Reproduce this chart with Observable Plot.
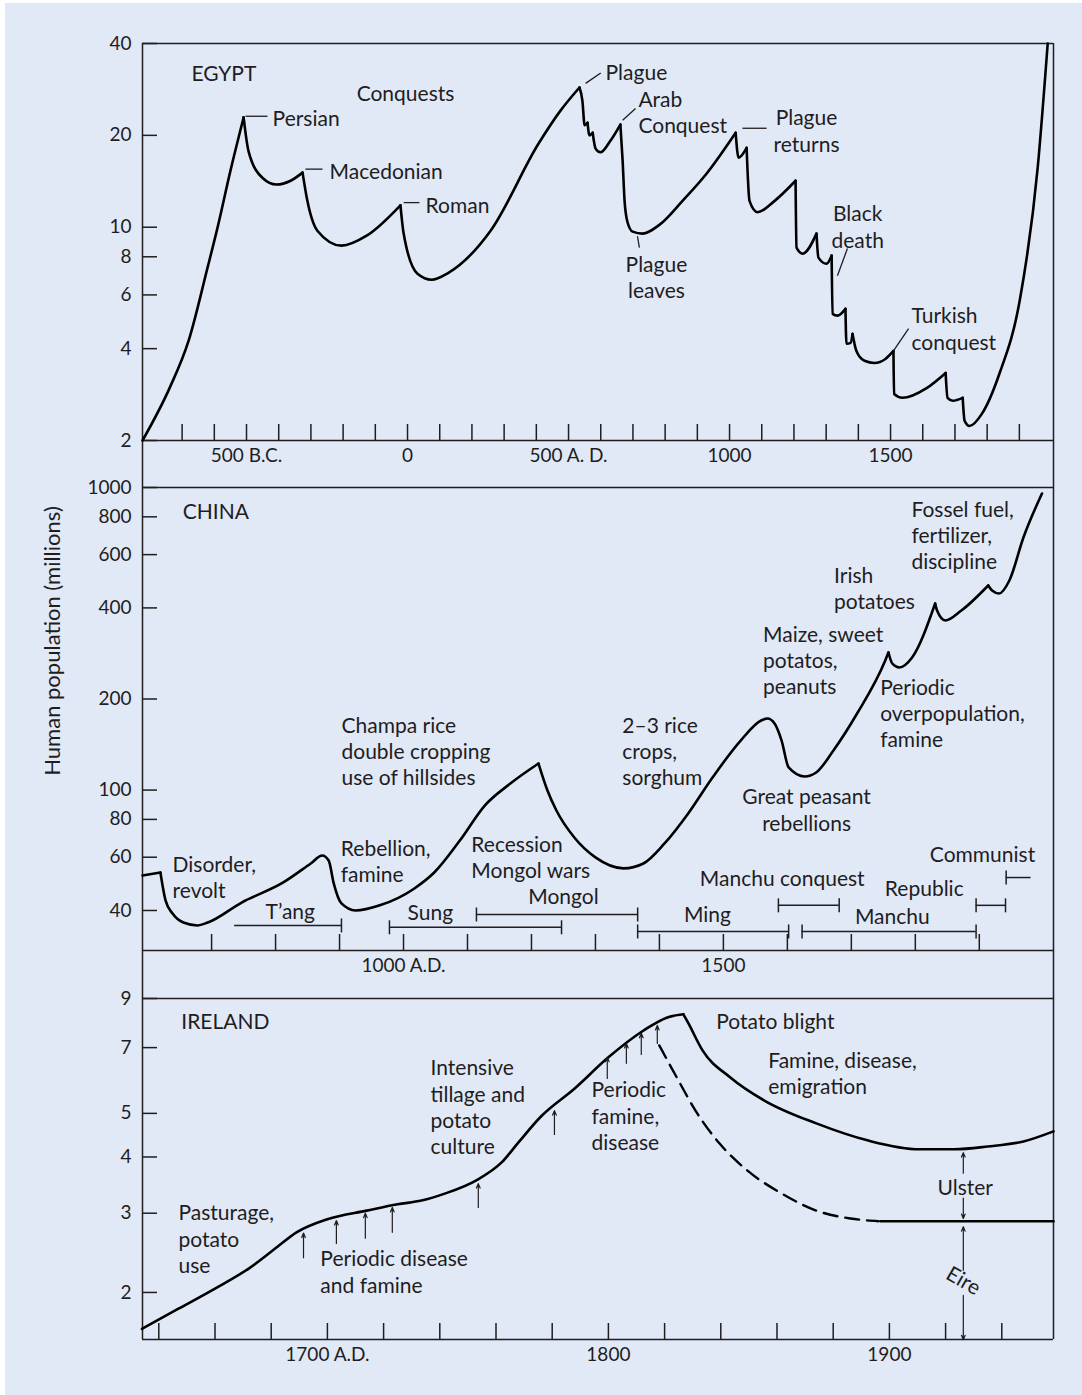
<!DOCTYPE html>
<html><head><meta charset="utf-8">
<script src="https://cdn.jsdelivr.net/npm/d3@7"></script>
<script src="https://cdn.jsdelivr.net/npm/@observablehq/plot@0.6"></script>
<style>
html,body{margin:0;padding:0;background:#ffffff;}
#bg{position:absolute;left:5px;top:3px;width:1077px;height:1392px;background:#e1e9f7;}
#chart{position:absolute;left:0;top:0;width:1082px;height:1395px;}
#chart svg{position:absolute;left:0;}
</style></head>
<body><div id="bg"></div><div id="chart"></div>
<script>
// ================= DATA =================
// ---- Egypt (year, population in millions)
const egyptCurve = [[-823,2.0],[-739,2.97],[-680,4.24],[-621,7.37],[-590,9.97],[-550,15.3],[-509,22.9],[-494,17.8],[-450,14.5],[-407,13.8],[-363,14.2],[-326,15.1],[-311,12.2],[-280,9.74],[-205,8.70],[-127,9.38],[-22,11.8],[-12,9.53],[31,7.04],[75,6.73],[127,7.09],[258,9.74],[407,18.8],[475,24.1],[534,28.7],[543,26.0],[550,21.6],[559,22.0],[565,20.0],[575,20.4],[584,18.1],[599,17.6],[630,19.2],[661,21.7],[668,16.5],[674,12.2],[683,10.4],[699,9.67],[730,9.53],[783,10.2],[854,12.2],[929,15.0],[1019,20.4],[1028,16.9],[1053,18.2],[1062,12.2],[1087,11.2],[1140,12.2],[1205,14.2],[1208,8.57],[1227,8.19],[1270,9.53],[1276,7.95],[1301,7.59],[1317,8.07],[1320,5.20],[1335,5.13],[1360,5.40],[1363,4.15],[1376,4.18],[1382,4.47],[1394,3.93],[1419,3.65],[1450,3.59],[1484,3.70],[1509,3.93],[1511,2.84],[1537,2.76],[1612,2.97],[1671,3.33],[1677,2.76],[1693,2.70],[1724,2.76],[1730,2.32],[1745,2.23],[1783,2.44],[1838,3.31],[1901,5.74],[1957,15.7],[1988,40]];
const egyptCusps = [-509, -326, -22, 534, 559, 575, 661, 1019, 1053, 1205, 1270, 1317, 1360, 1382, 1509, 1671, 1724];
const egyptXDomain = [-823, 2006];
const egyptYDomain = [2, 40];
const egyptYTicks = [2, 4, 6, 8, 10, 20, 40];
const egyptMinorTicks = [-700,-600,-500,-400,-300,-200,-100,0,100,200,300,400,500,600,700,800,900,1000,1100,1200,1300,1400,1500,1600,1700,1800,1900];
const egyptLabelValues = [-500, 0, 500, 1000, 1500];
const egyptLabelTexts = ["500 B.C.", "0", "500 A. D.", "1000", "1500"];
const egyptNotes = [
  {text:"EGYPT", x:-671, y:32.2, anchor:"start"},
  {text:"Conquests", x:-158, y:27.7, anchor:"start"},
  {text:"Persian", x:-419, y:22.9, anchor:"start"},
  {text:"Macedonian", x:-242, y:15.3, anchor:"start"},
  {text:"Roman", x:56, y:11.9, anchor:"start"},
  {text:"Plague", x:615, y:32.4, anchor:"start"},
  {text:"Arab\nConquest", x:717, y:23.9, anchor:"start"},
  {text:"Plague\nreturns", x:1239, y:20.8, anchor:"middle"},
  {text:"Plague\nleaves", x:773, y:6.88, anchor:"middle"},
  {text:"Black\ndeath", x:1398, y:10.08, anchor:"middle"},
  {text:"Turkish\nconquest", x:1565, y:4.67, anchor:"start"}
];
const egyptLeaders = [
  [-503,23.1,-435,23.1],[-317,15.5,-264,15.5],[-12,12.04,37,12.04],[553,29.6,600,32.0],
  [668,22.4,708,24.5],[1040,21.1,1115,21.1],[714,9.34,720,8.57],[1335,6.93,1366,8.51],[1509,3.93,1556,4.65]
];

// ---- China
const chinaCurve = [[592,52.2],[620,53.4],[628,43.2],[639,39.1],[656,36.5],[678,35.7],[694,36.5],[747,42.5],[812,49.5],[855,57.2],[873,60.8],[883,58.5],[891,49.1],[903,42.2],[925,40.0],[963,41.6],[1017,47.3],[1048,53.4],[1088,68.1],[1127,88.9],[1167,105.1],[1211,122.4],[1225,99.7],[1239,85.6],[1267,69.7],[1300,59.9],[1344,55.1],[1375,57.2],[1408,66.6],[1445,83.7],[1483,110.0],[1527,145.8],[1559,169.8],[1569,172.4],[1580,166.0],[1591,145.8],[1602,118.8],[1627,110.9],[1645,114.3],[1672,135.2],[1709,179.1],[1753,268.1],[1758,284.9],[1764,262.0],[1775,254.2],[1795,274.3],[1831,413.6],[1834,392.1],[1847,363.4],[1872,392.1],[1914,474.4],[1920,456.7],[1931,446.4],[1947,492.8],[1969,683.8],[1998,955.4]];
const chinaCusps = [620, 1211, 1758, 1831, 1914];
const chinaXDomain = [592, 2016];
const chinaYDomain = [29.5, 1000];
const chinaYTicks = [40, 60, 80, 100, 200, 400, 600, 800, 1000];
const chinaMinorTicks = [700,800,900,1000,1100,1200,1300,1400,1500,1600,1700,1800,1900];
const chinaLabelValues = [1000, 1500];
const chinaLabelTexts = ["1000 A.D.", "1500"];
const chinaNotes = [
  {text:"CHINA", x:655, y:839, anchor:"start"},
  {text:"Disorder,\nrevolt", x:639, y:51.8, anchor:"start"},
  {text:"Rebellion,\nfamine", x:902, y:58.3, anchor:"start"},
  {text:"Champa rice\ndouble cropping\nuse of hillsides", x:903, y:135.2, anchor:"start"},
  {text:"Recession\nMongol wars", x:1106, y:60.3, anchor:"start"},
  {text:"2–3 rice\ncrops,\nsorghum", x:1342, y:135.2, anchor:"start"},
  {text:"Maize, sweet\npotatos,\npeanuts", x:1562, y:270, anchor:"start"},
  {text:"Irish\npotatoes", x:1673, y:466, anchor:"start"},
  {text:"Fossel fuel,\nfertilizer,\ndiscipline", x:1794, y:700, anchor:"start"},
  {text:"Periodic\noverpopulation,\nfamine", x:1745, y:180, anchor:"start"},
  {text:"Great peasant\nrebellions", x:1630, y:86.5, anchor:"middle"},
  {text:"Communist", x:1905, y:61.7, anchor:"middle"}
];
const chinaPeriodNames = ["T’ang","Sung","Mongol","Ming","Manchu conquest","Manchu","Republic","Communist"];
const chinaPeriodStart = [736, 978, 1114, 1366, 1586, 1623, 1895, 1942];
const chinaPeriodEnd   = [903, 1247, 1366, 1602, 1681, 1895, 1941, 1981];
const chinaPeriodLevel = [35.7, 35.2, 38.8, 34.1, 41.6, 34.1, 41.6, 51.4];
const chinaPeriodTicks = ["end","both","both","both","both","both","both","start"];
const chinaPeriodLabelX = [823, 1042, 1250, 1475, 1592, 1764, 1814, null];
const chinaPeriodLabelY = [39.4, 39.1, 44.2, 38.5, 50.7, 37.9, 46.9, null];

// ---- Ireland
const irelandCurve = [[1634,1.66],[1647,1.84],[1660,2.04],[1672,2.26],[1682,2.52],[1689,2.72],[1700,2.91],[1714,3.04],[1725,3.14],[1733.5,3.20],[1742,3.32],[1753,3.55],[1762,3.89],[1768,4.31],[1776,4.92],[1788,5.68],[1800,6.66],[1812.5,7.64],[1821,8.17],[1826.7,8.30],[1828.5,7.92],[1833.5,6.90],[1843.4,6.01],[1855.5,5.34],[1874,4.75],[1892.5,4.35],[1910.7,4.16],[1923,4.16],[1935,4.22],[1947.7,4.33],[1958.4,4.56]];
const irelandCusps = [1826.7];
const eireDashed = [[1818.1,7.08],[1824.9,5.92],[1831,5.07],[1839.5,4.29],[1849.5,3.73],[1861.6,3.32],[1874,3.04],[1886.1,2.92],[1896.1,2.88]];
const eireSolid = [[1896.8,2.88],[1958.4,2.88]];
const irelandXDomain = [1634.2, 1958.4];
const irelandYDomain = [1.572, 9];
const irelandYTicks = [2, 3, 4, 5, 7, 9];
const irelandMinorTicks = [1640,1660,1680,1700,1720,1740,1760,1780,1800,1820,1840,1860,1880,1900,1920,1940];
const irelandLabelValues = [1700, 1800, 1900];
const irelandLabelTexts = ["1700 A.D.", "1800", "1900"];
const irelandArrows = [[1691.5,2.39,2.71],[1703.2,2.57,2.89],[1713.5,2.64,3.00],[1723.1,2.72,3.09],[1753.7,3.09,3.49],[1780.8,4.49,5.07],[1799.6,5.98,6.66],[1806.4,6.46,7.15],[1811.7,6.76,7.53],[1817.4,7.15,7.84],
  [1926.3,3.68,4.09],[1926.3,3.24,2.92],[1926.3,2.24,2.80],[1926.3,1.97,1.57]];
const irelandNotes = [
  {text:"IRELAND", x:1648, y:8.04, anchor:"start"},
  {text:"Potato blight", x:1838.4, y:8.04, anchor:"start"},
  {text:"Famine, disease,\nemigration", x:1856.9, y:6.15, anchor:"start"},
  {text:"Intensive\ntillage and\npotato\nculture", x:1736.7, y:5.18, anchor:"start"},
  {text:"Periodic\nfamine,\ndisease", x:1794, y:4.95, anchor:"start"},
  {text:"Pasturage,\npotato\nuse", x:1647, y:2.64, anchor:"start"},
  {text:"Periodic disease\nand famine", x:1697.5, y:2.23, anchor:"start"},
  {text:"Ulster", x:1927, y:3.44, anchor:"middle"}
];
const eireLabel = [{text:"Eire", x:1926.3, y:2.12}];
const yTitle = ["Human population (millions)"];

// ================= DRAWING =================
const INK = "#1f1d1e";
const FONT = "Lato, 'Open Sans', sans-serif";
const NOTE_SIZE = 21;
const W = 1082, ML = 142, MR = 29;
const pts = a => a.map(([x, y]) => ({x, y}));
// split a curve into smooth pieces that meet at sharp peaks (cusps)
function splitAt(curve, cusps) {
  const out = []; let seg = 0;
  curve.forEach(([x, y]) => {
    out.push({x, y, seg});
    if (cusps.includes(x)) { seg++; out.push({x, y, seg}); }
  });
  return out;
}
const vbar = {draw(ctx) { ctx.moveTo(0, -7); ctx.lineTo(0, 7); }};
const curveStyle = {x: "x", y: "y", z: "seg", curve: "monotone-x", stroke: "#000", strokeWidth: 2.6, strokeLinecap: "round", strokeLinejoin: "round"};

function notesMarks(notes) {
  return ["start", "middle"].map(a => Plot.text(notes.filter(d => d.anchor === a), {
    x: "x", y: "y", text: "text", textAnchor: a, fontSize: NOTE_SIZE, lineHeight: 1.25, fill: INK
  }));
}

function panel(o) {
  const fw = W - ML - MR, fh = o.height - o.mt - o.mb;
  return Plot.plot({
    width: W, height: o.height,
    marginLeft: ML, marginRight: MR, marginTop: o.mt, marginBottom: o.mb,
    style: {background: "transparent", fontFamily: FONT, color: INK, overflow: "visible"},
    x: {domain: o.xDomain},
    y: {type: "log", domain: o.yDomain, axis: null},
    marks: [
      Plot.ruleY(o.yDomain, {stroke: INK, strokeWidth: 1.5}),
      Plot.ruleX(o.xDomain, {stroke: INK, strokeWidth: 1.5, insetTop: -o.extTop, insetBottom: -o.extBottom}),
      Plot.tickY(o.yTicks, {y: d => d, insetRight: fw - 15, stroke: INK, strokeWidth: 1.5}),
      Plot.tickX(o.minor, {x: d => d, insetTop: fh - 16, stroke: INK, strokeWidth: 1.5}),
      Plot.text(o.yTicks, {y: d => d, text: d => String(d), frameAnchor: "left", textAnchor: "end", dx: -11, fontSize: 19, fill: INK}),
      Plot.axisX(o.labelValues, {tickSize: 0, tickPadding: 8, fontSize: 19, label: null,
        tickFormat: d => o.labelTexts[o.labelValues.indexOf(d)]}),
      ...o.marks
    ]
  });
}

const chart = document.getElementById("chart");

// Egypt
const egypt = panel({
  height: 470, mt: 43, mb: 30, extTop: 0, extBottom: 30,
  xDomain: egyptXDomain, yDomain: egyptYDomain, yTicks: egyptYTicks, minor: egyptMinorTicks,
  labelValues: egyptLabelValues, labelTexts: egyptLabelTexts,
  marks: [
    Plot.line(splitAt(egyptCurve, egyptCusps), curveStyle),
    Plot.link(egyptLeaders, {x1: d => d[0], y1: d => d[1], x2: d => d[2], y2: d => d[3], stroke: INK, strokeWidth: 1.3}),
    ...notesMarks(egyptNotes)
  ]
});
egypt.style.top = "0px";
chart.append(egypt);

// China
const periods = chinaPeriodNames.map((name, i) => ({name, start: chinaPeriodStart[i], end: chinaPeriodEnd[i], y: chinaPeriodLevel[i], ticks: chinaPeriodTicks[i], lx: chinaPeriodLabelX[i], ly: chinaPeriodLabelY[i]}));
const periodEnds = periods.flatMap(p => [
  ...(p.ticks !== "end" ? [{x: p.start, y: p.y}] : []),
  ...(p.ticks !== "start" ? [{x: p.end, y: p.y}] : [])
]);
const china = panel({
  height: 510, mt: 17, mb: 30, extTop: 17, extBottom: 30,
  xDomain: chinaXDomain, yDomain: chinaYDomain, yTicks: chinaYTicks, minor: chinaMinorTicks,
  labelValues: chinaLabelValues, labelTexts: chinaLabelTexts,
  marks: [
    Plot.line(splitAt(chinaCurve, chinaCusps), curveStyle),
    Plot.ruleY(periods, {y: "y", x1: "start", x2: "end", stroke: INK, strokeWidth: 1.5}),
    Plot.dot(periodEnds, {x: "x", y: "y", symbol: vbar, stroke: INK, strokeWidth: 1.5, fill: "none"}),
    Plot.text(periods.filter(p => p.lx !== null), {x: "lx", y: "ly", text: "name", fontSize: NOTE_SIZE, fill: INK}),
    ...notesMarks(chinaNotes),
    Plot.text(yTitle, {text: d => d, frameAnchor: "left", textAnchor: "middle", rotate: -90, dx: -90, dy: -78, fontSize: 22, fill: INK})
  ]
});
china.style.top = "470px";
chart.append(china);

// Ireland
const ireland = panel({
  height: 415, mt: 18, mb: 56, extTop: 18, extBottom: 0,
  xDomain: irelandXDomain, yDomain: irelandYDomain, yTicks: irelandYTicks, minor: irelandMinorTicks,
  labelValues: irelandLabelValues, labelTexts: irelandLabelTexts,
  marks: [
    Plot.line(splitAt(irelandCurve, irelandCusps), curveStyle),
    Plot.line(pts(eireDashed), {x: "x", y: "y", curve: "monotone-x", stroke: "#000", strokeWidth: 2.4, strokeDasharray: "14,8"}),
    Plot.line(pts(eireSolid), {x: "x", y: "y", stroke: "#000", strokeWidth: 2.6}),
    Plot.arrow(irelandArrows, {x1: d => d[0], x2: d => d[0], y1: d => d[1], y2: d => d[2], stroke: INK, strokeWidth: 1.2, headLength: 6, headAngle: 45}),
    ...notesMarks(irelandNotes),
    Plot.text(eireLabel, {x: "x", y: "y", text: "text", rotate: 30, fontSize: NOTE_SIZE, fill: INK})
  ]
});
ireland.style.top = "980px";
chart.append(ireland);
</script>
</body></html>
